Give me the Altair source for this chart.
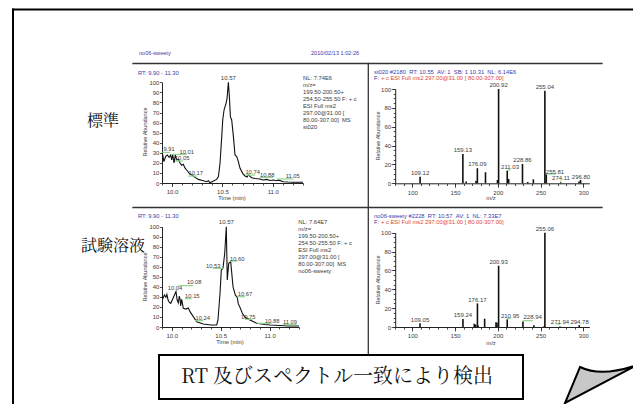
import altair as alt
import pandas as pd

# ---------------- data ----------------
# Chromatogram, standard (標準)
C1_RT = [9.903, 9.919, 9.936, 9.953, 9.970, 9.986, 9.996, 10.006, 10.019, 10.032, 10.046, 10.062,
         10.079, 10.095, 10.112, 10.128, 10.145, 10.171, 10.195, 10.228, 10.261, 10.31, 10.344,
         10.36, 10.377, 10.41, 10.443, 10.46, 10.476, 10.493, 10.503, 10.516, 10.536, 10.546,
         10.559, 10.569, 10.579, 10.592, 10.609, 10.625, 10.642, 10.658, 10.675, 10.701, 10.724,
         10.745, 10.757, 10.79, 10.824, 10.873, 10.90, 10.94, 10.972, 11.005, 11.038, 11.06,
         11.104, 11.15, 11.20, 11.25, 11.30]
C1_AB = [30.2, 21.2, 26.2, 27.8, 25.5, 27.8, 22.9, 28.5, 19.9, 27.8, 22.8, 23.5,
         19.9, 17.7, 18.6, 15.0, 12.9, 9.6, 8.0, 5.6, 3.6, 2.3, 1.3,
         2.3, 0.3, 2.0, 3.6, 6.3, 19.4, 46.0, 62.6, 72.5, 79.1, 84.1,
         100, 85.7, 65.9, 62.6, 46.0, 27.8, 26.2, 21.2, 14.6, 9.6, 7.0,
         6.0, 8.0, 5.3, 4.5, 4.0, 3.0, 3.6, 2.5, 3.0, 2.3, 2.8,
         1.3, 1.0, 0.8, 0.7, 0.7]
C1_PEAK = ("10.57", 10.559, 100)
C1_LBL = ["9.91", "10.01", "10.05", "10.17", "10.74", "10.88", "11.05"]
C1_LBL_X = [9.97, 10.145, 10.10, 10.235, 10.80, 10.945, 11.198]
C1_LBL_Y = [33.4, 30.7, 24.8, 9.9, 10.6, 8.2, 6.9]
C1_G_X0 = [9.903, 9.99, 10.03, 10.16, 10.725, 10.873, 11.04]
C1_G_X1 = [9.98, 10.145, 10.11, 10.245, 10.825, 11.002, 11.205]
C1_G_Y = [30.4, 28.4, 21.8, 6.9, 7.9, 5.6, 4.0]
C1_NL = ["NL: 7.74E6", "m/z=", "199.50-200.50+", "254.50-255.50 F: + c", "ESI Full ms2",
         "297.00@31.00 [", "80.00-307.00]\u00a0\u00a0MS", "st020"]

# Chromatogram, test solution (試験溶液)
C3_RT = [9.900, 9.910, 9.925, 9.940, 9.950, 9.962, 9.975, 9.989, 10.005, 10.023, 10.043, 10.055,
         10.067, 10.077, 10.086, 10.091, 10.101, 10.118, 10.145, 10.169, 10.186, 10.22, 10.254,
         10.322, 10.40, 10.459, 10.472, 10.493, 10.506, 10.523, 10.541, 10.557, 10.567, 10.582,
         10.602, 10.626, 10.649, 10.669, 10.68, 10.694, 10.72, 10.748, 10.799, 10.867, 10.95,
         11.004, 11.10, 11.20, 11.30]
C3_AB = [30.3, 28.6, 32.0, 29.6, 32.5, 26.9, 24.5, 23.6, 26.9, 30.9, 35.3, 26.9,
         24.0, 30.9, 27.0, 21.0, 27.5, 18.6, 17.9, 19.0, 15.3, 10.3, 5.3,
         3.0, 2.0, 2.0, 7.0, 33.6, 56.8, 58.5, 73.5, 100, 46.9, 63.5,
         65.0, 40.0, 32.0, 29.5, 23.0, 20.3, 14.0, 10.0, 7.0, 3.7, 2.5,
         2.0, 1.5, 1.0, 1.0]
C3_PEAK = ("10.57", 10.557, 100)
C3_LBL = ["10.53", "10.60", "10.04", "10.08", "10.15", "10.24", "10.67", "10.75", "10.88", "11.09"]
C3_LBL_X = [10.424, 10.669, 10.033, 10.23, 10.21, 10.316, 10.748, 10.782, 11.027, 11.208]
C3_LBL_Y = [61.1, 67.5, 38.6, 44.6, 30.9, 8.7, 33.2, 10.3, 6.0, 4.7]
C3_G_X0 = [10.418, 10.595, 10.067, 10.135, 10.237, 10.669, 10.748, 10.874, 11.133]
C3_G_X1 = [10.534, 10.669, 10.22, 10.203, 10.322, 10.748, 10.827, 11.021, 11.276]
C3_G_Y = [58.5, 65.8, 41.2, 28.2, 6.3, 30.2, 7.7, 3.7, 2.3]
C3_NL = ["NL: 7.64E7", "m/z=", "199.50-200.50+", "254.50-255.50 F: + c", "ESI Full ms2",
         "297.00@31.00 [", "80.00-307.00]\u00a0\u00a0MS", "no06-sweety"]

# Spectrum, standard
S1_MZ = [109.12, 159.13, 163.0, 174.5, 176.09, 185.6, 199.6, 200.92, 211.03, 212.7, 228.86,
         235.0, 241.6, 255.04, 256.7, 273.6, 295.0, 296.80]
S1_AB = [7.0, 31.0, 1.8, 2.8, 16.0, 11.7, 3.5, 100, 13.4, 4.6, 20.5,
         1.4, 4.2, 98.2, 9.5, 1.0, 2.0, 3.5]
S1_TOP = ["109.12", "159.13", "176.09", "200.92", "228.86", "255.04"]
S1_TOP_MZ = [109.12, 159.13, 176.09, 200.92, 228.86, 255.04]
S1_TOP_AB = [7.0, 31.0, 16.0, 100, 20.5, 98.2]
S1_OFF = ["211.03", "255.81", "274.11", "296.80"]
S1_OFF_MZ = [214.3, 266.9, 273.9, 297.3]
S1_OFF_AB = [17.3, 12.3, 6.0, 6.7]
S1_G_X0 = [211.1, 256.4, 272.6]
S1_G_X1 = [215.0, 268.0, 274.0]
S1_G_Y = [14.0, 9.9, 2.5]

# Spectrum, test solution
S2_MZ = [109.05, 159.24, 172.5, 174.1, 176.17, 176.8, 184.6, 197.9, 199.0, 200.93, 211.0,
         229.4, 242.2, 254.3, 255.06, 272.7, 295.3]
S2_AB = [3.9, 8.5, 3.5, 2.5, 25.0, 1.5, 8.8, 5.0, 4.6, 65.0, 8.1,
         5.7, 1.8, 1.0, 100, 0.5, 2.0]
S2_TOP = ["109.05", "159.24", "176.17", "200.93", "255.06"]
S2_TOP_MZ = [109.05, 159.24, 176.17, 200.93, 255.06]
S2_TOP_AB = [3.9, 8.5, 25.0, 65.0, 100]
S2_OFF = ["210.95", "228.94", "271.94", "294.78"]
S2_OFF_MZ = [214.4, 240.8, 272.7, 295.6]
S2_OFF_AB = [11.7, 10.3, 5.6, 5.6]
S2_G_X0 = [211.0, 229.0, 268.0]
S2_G_X1 = [215.0, 240.8, 273.0]
S2_G_Y = [8.9, 6.7, 3.2]

# axes
RT_DOMAIN = [9.90, 11.30]
RT_MAJOR = [10.0, 10.5, 11.0]
RT_MINOR = [9.9, 10.0, 10.1, 10.2, 10.3, 10.4, 10.5, 10.6, 10.7, 10.8, 10.9, 11.0, 11.1, 11.2, 11.3]
CH_Y = [0, 10, 20, 30, 40, 50, 60, 70, 80, 90, 100]
MZ_DOMAIN = [80, 307]
MZ_MAJOR = [100, 150, 200, 250, 300]
MZ_MINOR = [80, 90, 100, 110, 120, 130, 140, 150, 160, 170, 180, 190, 200, 210, 220, 230, 240,
            250, 260, 270, 280, 290, 300]
SP_Y = [0, 20, 40, 60, 80, 100]
SP_Y_MINOR = [0, 5, 10, 15, 20, 25, 30, 35, 40, 45, 50, 55, 60, 65, 70, 75, 80, 85, 90, 95, 100]

# ---------------- style / layout ----------------
FONT = "Liberation Sans"
JFONT = "Noto Serif CJK JP, Noto Sans CJK JP"
TXT = "#3c3c3c"
AX = "#222222"
BLUE = "#3d3daa"
RED = "#e2433c"
GREEN = "#8ad68a"
W, H = 625, 396
OX, OY = 8, 8

P1 = {"x0": 162, "x1": 303, "y0": 183, "y1": 82.3}
P3 = {"x0": 162, "x1": 299, "y0": 327, "y1": 226.7}
P2 = {"x0": 395.2, "x1": 589.3, "y0": 183.3, "y1": 89}
P4 = {"x0": 395.2, "x1": 589.3, "y0": 327, "y1": 232.7}

one = pd.DataFrame({"k": [0]})


def sx(p, dom):
    return alt.Scale(domain=dom, range=[p["x0"] - OX, p["x1"] - OX], nice=False, zero=False)


def sy(p):
    return alt.Scale(domain=[0, 100], range=[p["y0"] - OY, p["y1"] - OY], nice=False, zero=False)


def x_axis(p, values, fmt, tick, labels=True, pad=1.8):
    kw = dict(orient="bottom", offset=(p["y0"] - OY) - H, values=values, grid=False, title=None,
              ticks=True, tickSize=tick, tickColor=AX, tickWidth=0.8,
              domain=labels, domainColor=AX, domainWidth=1, labels=labels)
    if labels:
        kw.update(format=fmt, labelFont=FONT, labelFontSize=6, labelColor=TXT,
                  labelPadding=pad, labelFlush=False, labelOverlap=False)
    return alt.Axis(**kw)


def y_axis(p, values, tick, labels=True):
    kw = dict(orient="left", offset=-(p["x0"] - OX), values=values, grid=False, title=None,
              ticks=True, tickSize=tick, tickColor=AX, tickWidth=0.8,
              domain=labels, domainColor=AX, domainWidth=1, labels=labels)
    if labels:
        kw.update(format="d", labelFont=FONT, labelFontSize=6, labelColor=TXT,
                  labelPadding=0.6, labelOverlap=False)
    return alt.Axis(**kw)


def note(text, x, y, size=5.8, color=TXT, align="left", baseline="middle", angle=0, font=FONT, lh=None):
    kw = dict(font=font, fontSize=size, color=color, align=align, baseline=baseline)
    if angle:
        kw["angle"] = angle
    if lh:
        kw["lineHeight"] = lh
    return alt.Chart(one).mark_text(**kw).encode(
        x=alt.value(x - OX), y=alt.value(y - OY), text=alt.value(text))


def hline(x0, x1, y, w=1.3, c="#333333"):
    return alt.Chart(one).mark_rule(color=c, strokeWidth=w, strokeCap="square").encode(
        x=alt.value(x0 - OX), x2=alt.value(x1 - OX), y=alt.value(y - OY))


def vline(x, y0, y1, w=1.3, c="#333333"):
    return alt.Chart(one).mark_rule(color=c, strokeWidth=w, strokeCap="square").encode(
        x=alt.value(x - OX), y=alt.value(y0 - OY), y2=alt.value(y1 - OY))


def chrom_layers(p, rt, ab, peak, lbl, lx, ly, gx0, gx1, gy):
    xsc, ysc = sx(p, RT_DOMAIN), sy(p)
    trace = pd.DataFrame({"rt": rt, "ab": ab})
    g = pd.DataFrame({"x0": gx0, "x1": gx1, "y": gy})
    t = pd.DataFrame({"t": lbl, "x": lx, "y": ly})
    pk = pd.DataFrame({"t": [peak[0]], "x": [peak[1]], "y": [peak[2]]})
    return [
        alt.Chart(trace).mark_line(color="#111111", strokeWidth=1.1).encode(
            x=alt.X("rt:Q", scale=xsc, axis=x_axis(p, RT_MAJOR, ".1f", 3.5)),
            y=alt.Y("ab:Q", scale=ysc, axis=y_axis(p, CH_Y, 2.5))),
        alt.Chart(trace).mark_line(opacity=0).encode(
            x=alt.X("rt:Q", scale=xsc, axis=x_axis(p, RT_MINOR, None, 2, labels=False)),
            y=alt.Y("ab:Q", scale=ysc, axis=None)),
        alt.Chart(g).mark_rule(color=GREEN, strokeWidth=1.2).encode(
            x=alt.X("x0:Q", scale=xsc, axis=None), x2="x1:Q",
            y=alt.Y("y:Q", scale=ysc, axis=None)),
        alt.Chart(t).mark_text(font=FONT, fontSize=5.8, color=TXT).encode(
            x=alt.X("x:Q", scale=xsc, axis=None), y=alt.Y("y:Q", scale=ysc, axis=None), text="t:N"),
        alt.Chart(pk).mark_text(font=FONT, fontSize=6, color=TXT, dy=-4.3).encode(
            x=alt.X("x:Q", scale=xsc, axis=None), y=alt.Y("y:Q", scale=ysc, axis=None), text="t:N"),
    ]


def spec_layers(p, mz, ab, top, tmz, tab, off, omz, oab, gx0, gx1, gy):
    xsc, ysc = sx(p, MZ_DOMAIN), sy(p)
    bars = pd.DataFrame({"mz": mz, "ab": ab, "base": [0] * len(mz)})
    g = pd.DataFrame({"x0": gx0, "x1": gx1, "y": gy})
    t = pd.DataFrame({"t": top, "x": tmz, "y": tab})
    o = pd.DataFrame({"t": off, "x": omz, "y": oab})
    return [
        alt.Chart(bars).mark_rule(color="#111111", strokeWidth=1.6).encode(
            x=alt.X("mz:Q", scale=xsc, axis=x_axis(p, MZ_MAJOR, "d", 4)),
            y=alt.Y("ab:Q", scale=ysc, axis=y_axis(p, SP_Y, 4)),
            y2="base:Q"),
        alt.Chart(bars).mark_point(opacity=0).encode(
            x=alt.X("mz:Q", scale=xsc, axis=x_axis(p, MZ_MINOR, None, 2.2, labels=False)),
            y=alt.Y("ab:Q", scale=ysc, axis=y_axis(p, SP_Y_MINOR, 2, labels=False))),
        alt.Chart(g).mark_rule(color=GREEN, strokeWidth=1.2).encode(
            x=alt.X("x0:Q", scale=xsc, axis=None), x2="x1:Q",
            y=alt.Y("y:Q", scale=ysc, axis=None)),
        alt.Chart(t).mark_text(font=FONT, fontSize=6, color=TXT, dy=-3.8).encode(
            x=alt.X("x:Q", scale=xsc, axis=None), y=alt.Y("y:Q", scale=ysc, axis=None), text="t:N"),
        alt.Chart(o).mark_text(font=FONT, fontSize=6, color=TXT).encode(
            x=alt.X("x:Q", scale=xsc, axis=None), y=alt.Y("y:Q", scale=ysc, axis=None), text="t:N"),
    ]


# ---------------- decorations ----------------
CURL = "M -0.5 -0.525 Q 0.0375 -0.2625 0.925 -0.575 L -0.875 0.375 Z"
layers = [
    hline(13, 637, 9.5, w=2, c="#000000"),
    vline(13, 9.5, 412, w=2, c="#000000"),
    vline(637, 9.5, 365, w=2, c="#000000"),
    hline(133, 602, 63.5),
    hline(133, 602, 207.5),
    vline(368.3, 63.5, 355),
    alt.Chart(one).mark_rect(fill="white", stroke="#000000", strokeWidth=2).encode(
        x=alt.value(159 - OX), x2=alt.value(523 - OX), y=alt.value(355 - OY), y2=alt.value(399 - OY)),
    alt.Chart(one).mark_point(shape=CURL, size=6400, filled=True, fill="#c8c8c8", stroke="#000000",
                              strokeWidth=2, opacity=1).encode(
        x=alt.value(600 - OX), y=alt.value(388 - OY)),
    note("RT 及びスペクトル一致により検出", 337, 377, size=20, color="#111111", align="center", font=JFONT),
    note("標準", 103, 121, size=16, color="#111111", align="center", font=JFONT),
    note("試験溶液", 113, 246, size=16, color="#111111", align="center", font=JFONT),
    note("no06-sweety", 139, 53, size=5.6, color=BLUE),
    note("2010/02/13 1:02:26", 311, 53, size=5.6, color=BLUE),
    # top-left panel texts
    note("RT: 9.90 - 11.30", 138, 72.7, color=BLUE),
    note(C1_NL, 303, 75.4, baseline="top", lh=7),
    note("Relative Abundance", 145, 132, size=5.5, align="center", angle=270),
    note("Time (min)", 232, 198, align="center"),
    # bottom-left panel texts
    note("RT: 9.90 - 11.30", 138, 216, color=BLUE),
    note(C3_NL, 298.3, 218.8, baseline="top", lh=7),
    note("Relative Abundance", 145, 277, size=5.5, align="center", angle=270),
    note("Time (min)", 230, 341.7, align="center"),
    # top-right panel texts
    note("st020 #2180\u00a0\u00a0RT: 10.55\u00a0\u00a0AV: 1\u00a0\u00a0SB: 1 10.31\u00a0\u00a0NL: 6.14E6", 374, 72.3, color=BLUE),
    note("F:", 374, 78.3, color=BLUE),
    note("+ c ESI Full ms2 297.00@31.00 [ 80.00-307.00]", 381, 78.3, color=RED),
    note("Relative Abundance", 378, 136, size=5.5, align="center", angle=270),
    note("m/z", 491, 197.7, align="center"),
    # bottom-right panel texts
    note("no06-sweety #2228\u00a0\u00a0RT: 10.57\u00a0\u00a0AV: 1\u00a0\u00a0NL: 7.33E7", 374, 216, color=BLUE),
    note("F:", 374, 222, color=BLUE),
    note("+ c ESI Full ms2 297.00@31.00 [ 80.00-307.00]", 381, 222, color=RED),
    note("Relative Abundance", 378, 280, size=5.5, align="center", angle=270),
    note("m/z", 491, 342.7, align="center"),
]

layers += chrom_layers(P1, C1_RT, C1_AB, C1_PEAK, C1_LBL, C1_LBL_X, C1_LBL_Y, C1_G_X0, C1_G_X1, C1_G_Y)
layers += chrom_layers(P3, C3_RT, C3_AB, C3_PEAK, C3_LBL, C3_LBL_X, C3_LBL_Y, C3_G_X0, C3_G_X1, C3_G_Y)
layers += spec_layers(P2, S1_MZ, S1_AB, S1_TOP, S1_TOP_MZ, S1_TOP_AB, S1_OFF, S1_OFF_MZ, S1_OFF_AB,
                      S1_G_X0, S1_G_X1, S1_G_Y)
layers += spec_layers(P4, S2_MZ, S2_AB, S2_TOP, S2_TOP_MZ, S2_TOP_AB, S2_OFF, S2_OFF_MZ, S2_OFF_AB,
                      S2_G_X0, S2_G_X1, S2_G_Y)

chart = alt.layer(*layers).resolve_scale(x="independent", y="independent").properties(
    width=W, height=H, padding=0, autosize=alt.AutoSizeParams(type="none"), background="white"
).configure_view(stroke=None)

chart.save("out.html", embed_options={"renderer": "svg", "actions": False})
